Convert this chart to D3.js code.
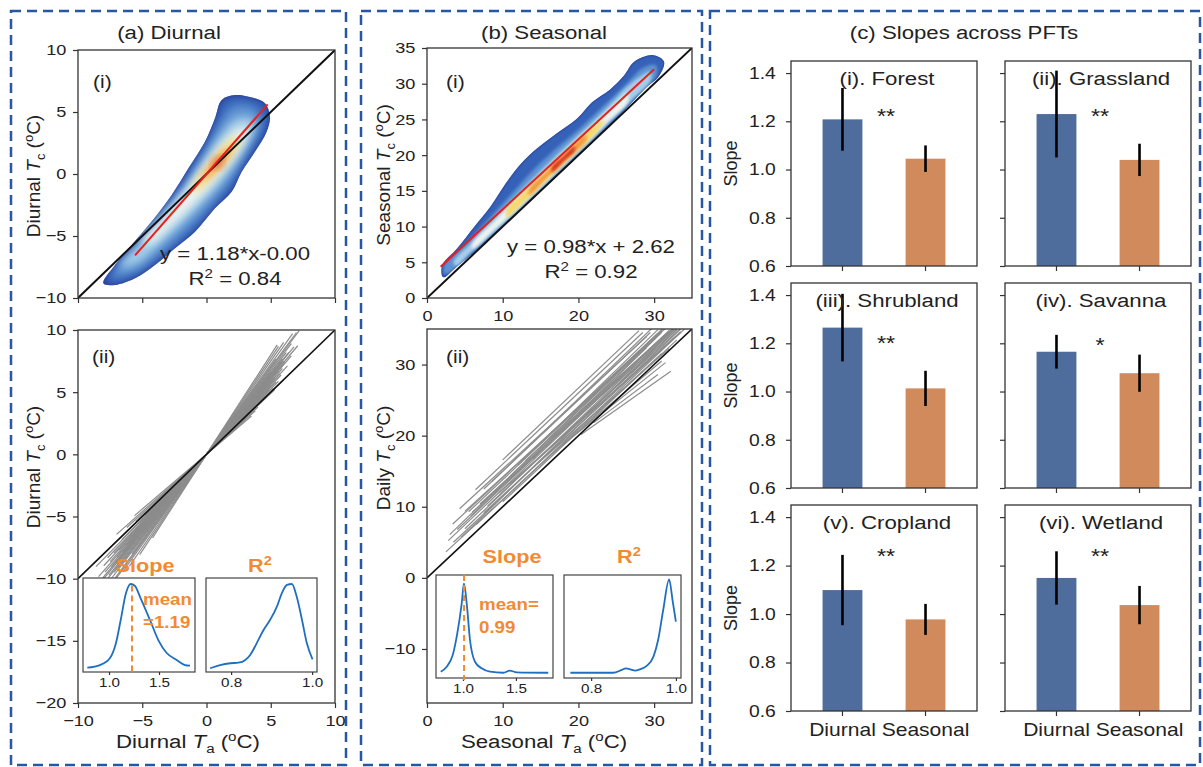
<!DOCTYPE html>
<html>
<head>
<meta charset="utf-8">
<script src="https://cdn.jsdelivr.net/npm/d3@7"></script>
<style>
  body { margin: 0; background: #fff; }
  svg { display: block; }
  text { font-family: "Liberation Sans", Arial, sans-serif; fill: #222; }
</style>
</head>
<body>
<div id="fig"></div>
<script>
//************* data ***************/

// (a)(i) diurnal scatter: density contours (low -> high), in data units
var cloudA = [
  [[-8.03,-8.82],[-7.12,-7.34],[-5.82,-5.73],[-4.27,-3.84],[-2.71,-1.69],[-1.41,0.46],[-0.12,2.61],[0.66,4.49],[1.18,5.97],[2.22,6.37],[3.77,6.10],[4.55,5.70],[4.94,4.62],[4.68,3.41],[3.77,1.80],[2.74,0.19],[1.96,-1.43],[0.66,-2.77],[-0.89,-4.65],[-2.45,-5.99],[-4.01,-7.34],[-5.56,-8.41],[-7.12,-8.95]],
  [[-7.4,-8.3],[-5.6,-6.0],[-3.9,-3.8],[-2.4,-1.9],[-1.0,0.3],[0.3,2.6],[1.2,4.4],[1.9,5.4],[3.0,5.6],[4.0,5.1],[4.3,4.3],[3.9,3.1],[3.0,1.5],[2.1,-0.2],[1.0,-1.7],[-0.4,-3.4],[-2.0,-5.0],[-3.8,-6.6],[-5.6,-7.9]],
  [[-6.8,-7.5],[-5.0,-5.4],[-3.3,-3.3],[-1.7,-1.3],[-0.3,0.9],[1.0,3.0],[2.2,4.4],[3.3,4.6],[3.8,4.0],[3.4,2.9],[2.4,1.1],[1.2,-0.6],[-0.2,-2.2],[-1.8,-3.9],[-3.6,-5.6],[-5.4,-7.2]],
  [[-5.0,-5.5],[-3.2,-3.4],[-1.6,-1.4],[-0.2,0.6],[1.2,2.4],[2.6,3.7],[3.3,3.6],[2.9,2.6],[1.8,0.9],[0.6,-0.6],[-0.9,-2.3],[-2.6,-4.0],[-4.4,-5.6]],
  [[-1.0,-1.0],[0.0,0.3],[1.1,1.8],[2.2,2.9],[2.6,2.7],[2.0,1.7],[1.0,0.5],[0.0,-0.6],[-0.8,-1.4]],
  [[-0.2,0.0],[0.7,1.1],[1.6,2.0],[1.9,1.8],[1.3,1.0],[0.4,0.0],[-0.3,-0.5]],
  [[0.4,0.5],[0.9,1.2],[1.3,1.4],[1.2,1.0],[0.7,0.5]]
]
var fitA = {k: 1.18, b: 0.00, x0: -5.56, x1: 4.76}
var eqA = ["y = 1.18*x-0.00", "0.84"]

// (b)(i) seasonal scatter: density contours
var cloudB = [
  [[2.03,3.0],[2.03,4.62],[4.0,6.95],[6.2,9.9],[8.4,12.8],[10.5,16.2],[12.5,18.9],[14.6,21.0],[17.2,23.1],[19.8,25.1],[21.8,27.4],[24.2,29.2],[26.0,31.1],[27.4,33.1],[29.9,34.0],[31.3,33.1],[30.6,31.0],[29,29.5],[26,26.2],[22,21.9],[18,17.9],[14,13.9],[10,10.0],[6,6.2],[3.5,4.0],[2.3,2.9]],
  [[2.3,3.4],[2.3,4.6],[5,7.4],[8,10.9],[11,14.4],[14,17.9],[17,20.9],[20,23.6],[23,26.6],[26,29.6],[28.5,32.2],[30.2,32.6],[30.3,31.2],[28,28.6],[24,24.4],[20,20.2],[16,16.1],[12,12.1],[8,8.3],[5,5.5],[3,3.6]],
  [[3.5,5.0],[6,7.9],[9,11.3],[12,14.6],[15,17.8],[18,20.9],[21,23.8],[24,26.9],[27,30.1],[29.5,31.7],[29.5,30.4],[27,27.7],[24,24.6],[21,21.4],[18,18.4],[15,15.3],[12,12.3],[9,9.4],[6,6.6],[3.8,4.5]],
  [[6,7.6],[9,10.8],[12,14.1],[15,17.2],[18,20.3],[21,23.3],[24,26.3],[26.5,28.6],[26.5,27.4],[24,24.8],[21,21.7],[18,18.7],[15,15.6],[12,12.6],[9,9.7],[6,6.9]],
  [[10.5,12.3],[13,15.0],[16,18.1],[19,21.1],[22,24.0],[23.5,24.9],[22,22.7],[19,19.7],[16,16.7],[13,13.6],[10.5,11.3]],
  [[13.5,15.2],[16,17.9],[18.5,20.4],[21,22.8],[21,22.0],[18.5,19.5],[16,17.0],[13.5,14.4]],
  [[16.5,18.3],[18,19.8],[19.5,21.2],[19.5,20.6],[18,19.1],[16.5,17.6]]
]
var fitB = {k: 0.98, b: 2.62, x0: 1.8, x1: 30.0}
var eqB = ["y = 0.98*x + 2.62", "0.92"]

// (a)(ii) site regressions: [slope, x start, x end], through origin
var linesA = [
  [1.40,-7.5,7.0],[1.35,-7.8,6.6],[1.32,-7.2,6.2],[1.30,-8.0,5.9],[1.28,-7.6,6.4],[1.26,-7.0,5.8],
  [1.25,-8.2,6.0],[1.24,-6.8,5.5],[1.22,-7.4,5.2],[1.21,-6.5,6.1],[1.20,-7.9,5.6],[1.19,-6.0,5.0],
  [1.18,-7.0,4.8],[1.17,-8.4,5.9],[1.16,-6.3,5.3],[1.15,-7.5,4.6],[1.14,-5.8,5.7],[1.13,-6.8,6.3],
  [1.12,-8.0,4.4],[1.11,-5.5,5.0],[1.10,-7.2,5.8],[1.09,-6.0,4.2],[1.08,-7.7,5.4],[1.06,-5.2,4.9],
  [1.05,-8.6,5.6],[1.04,-6.6,4.5],[1.02,-4.8,5.2],[1.00,-8.8,6.0],[0.98,-5.5,5.3],[0.95,-6.2,4.0],
  [0.92,-7.0,3.8],[0.88,-5.6,3.5],[1.45,-6.5,6.7],[1.50,-6.0,6.0],[1.55,-5.2,5.6],[1.38,-5.8,7.2],
  [1.33,-6.9,5.0],[1.27,-5.0,6.8],[1.23,-8.3,7.1],[1.20,-4.6,6.6],[1.60,-4.2,5.5],[1.42,-7.0,5.4]
]

// (b)(ii) site regressions: [slope, intercept, x start, x end]
var linesB = [
  [1.01,6.5,10.0,28.0],[1.00,6.0,6.4,28.5],[0.98,5.5,4.3,29.0],[1.02,4.8,8.5,30.0],[0.99,4.2,3.4,30.5],
  [1.00,3.8,5.5,31.0],[0.97,3.6,7.0,32.5],[1.03,3.0,3.0,31.5],[0.98,3.2,9.0,33.0],[1.00,2.8,4.0,32.0],
  [0.96,3.5,6.0,33.5],[1.01,2.4,2.8,32.0],[0.99,2.2,8.0,33.0],[1.02,1.8,5.0,33.0],[0.97,2.6,11.0,34.0],
  [1.00,1.5,3.5,33.5],[0.98,1.8,7.5,32.5],[1.04,1.0,4.5,32.5],[0.95,2.8,12.0,33.5],[1.00,1.0,6.5,34.0],
  [0.99,0.8,10.0,33.0],[0.93,2.5,14.0,32.0],[0.90,2.6,16.0,31.0],[0.85,3.5,18.0,31.5],[0.75,4.9,20.3,32.2],
  [0.80,4.2,22.0,30.5],[1.03,3.5,12.0,30.5],[1.05,2.0,14.0,31.0],[0.97,4.5,5.0,31.0],[1.00,5.0,7.5,29.5],
  [1.02,2.8,5.8,29.0],[0.98,1.2,2.5,31.0],[0.96,4.0,13.0,31.5],[1.01,3.3,16.0,32.0],[0.94,3.0,9.5,33.5],
  [1.00,2.0,18.0,33.0]
]

// inset density curves: [value, relative density]
var slopeDensA = [[0.783,0.046],[0.91,0.074],[1.01,0.149],[1.07,0.309],[1.117,0.553],[1.17,0.84],[1.217,0.936],[1.26,0.915],[1.31,0.80],[1.41,0.553],[1.493,0.34],[1.577,0.202],[1.677,0.128],[1.76,0.074],[1.81,0.067]]
var r2DensA = [[0.748,0.04],[0.773,0.074],[0.798,0.093],[0.818,0.099],[0.835,0.128],[0.847,0.181],[0.863,0.305],[0.88,0.447],[0.896,0.553],[0.913,0.695],[0.925,0.837],[0.938,0.926],[0.95,0.936],[0.962,0.80],[0.975,0.553],[0.987,0.305],[1.001,0.135]]
var slopeDensB = [[0.79,0.061],[0.846,0.11],[0.903,0.223],[0.946,0.434],[0.988,0.725],[1.009,0.919],[1.035,0.725],[1.066,0.369],[1.113,0.158],[1.176,0.094],[1.255,0.061],[1.38,0.051],[1.443,0.071],[1.507,0.055],[1.805,0.051]]
var r2DensB = [[0.751,0.051],[0.852,0.051],[0.872,0.078],[0.882,0.094],[0.892,0.084],[0.904,0.071],[0.915,0.084],[0.931,0.117],[0.947,0.207],[0.958,0.369],[0.97,0.66],[0.984,0.958],[0.992,0.757],[1.0,0.547]]
var slopeLimA = [0.74, 1.86], r2LimA = [0.738, 1.012]
var slopeLimB = [0.745, 1.85], r2LimB = [0.736, 1.012]
var slopeTicks = [1.0, 1.5], r2Ticks = [0.8, 1.0]
var meanLineA = 1.23, meanTextA = ["mean", "=1.19"]
var meanLineB = 1.01, meanTextB = ["mean=", "0.99"]

// (c) slopes across PFTs
var pfts = ["(i). Forest", "(ii). Grassland", "(iii). Shrubland", "(iv). Savanna", "(v). Cropland", "(vi). Wetland"]
var periods = ["Diurnal", "Seasonal"]
var diurnalSlope = [1.208, 1.230, 1.265, 1.165, 1.099, 1.149]
var diurnalErr   = [0.130, 0.180, 0.140, 0.070, 0.145, 0.110]
var seasonalSlope = [1.045, 1.040, 1.013, 1.076, 0.978, 1.037]
var seasonalErr   = [0.055, 0.067, 0.073, 0.077, 0.064, 0.079]
var signif = ["**", "**", "**", "*", "**", "**"]
var signifY = [1.24, 1.24, 1.22, 1.21, 1.26, 1.26]
var slopeLim = [0.6, 1.45]
var slopeAxisTicks = [0.6, 0.8, 1.0, 1.2, 1.4]

//************* setup ***************/
var SX = 1.17   // the figure's text is a bit wider than tall
// edge colour, then one colour per contour (the first one is a blurred copy of the edge)
var densityColors = ["#24318a", "#3562b8", "#5d93d2", "#a6cfe9", "#eef4ef", "#f6d86a", "#f29a42", "#d6321f"]
var blue = "#4f6d9c", orange = "#d08a5c", accent = "#f28a33", lineBlue = "#1f6fbf"

var svg = d3.select("#fig").append("svg").attr("width", 1203).attr("height", 767)
var defs = svg.append("defs")

// text with optional sub / superscripts, stretched horizontally
function label(g, x, y, parts, o) {
  o = o || {}
  var size = o.size || 15
  var sx = o.sx || (o.rot ? 1 : SX)
  var t = g.append("text")
    .attr("transform", "translate(" + x + "," + y + ")" + (o.rot ? " rotate(" + o.rot + ")" : "") + " scale(" + sx + ",1)")
    .attr("text-anchor", o.anchor || "middle")
    .style("font-size", size + "px")
    .style("font-weight", o.bold ? "bold" : null)
    .style("fill", o.fill || "#222")
  if (typeof parts === "string") parts = [{t: parts}]
  var shift = 0
  parts.forEach(function(p) {
    var target = p.sub ? 0.28 * size : p.sup ? -0.38 * size : 0
    var ts = t.append("tspan").attr("dy", target - shift).text(p.t)
    shift = target
    if (p.sub || p.sup) ts.style("font-size", (size * 0.68) + "px")
    if (p.it) ts.style("font-style", "italic")
  })
  return t
}

function tempLabel(prefix, sub) {
  return [{t: prefix + " "}, {t: "T", it: true}, {t: sub, sub: true}, {t: " ("}, {t: "o", sup: true}, {t: "C)"}]
}

function styleAxis(sel, size, show) {
  sel.select(".domain").remove()
  sel.selectAll(".tick line").attr("stroke", "#333").attr("stroke-width", 1.2)
  sel.selectAll(".tick text").style("font-size", size + "px").attr("transform", "scale(" + SX + ",1)")
  if (!show) sel.selectAll(".tick text").remove()
}

function frame(g, x, y, xt, yt, showX, showY) {
  var xa = g.append("g").attr("transform", "translate(0," + y.range()[0] + ")")
    .call(d3.axisBottom(x).tickValues(xt).tickSize(5).tickPadding(7))
  styleAxis(xa, 15.5, showX)
  var ya = g.append("g").attr("transform", "translate(" + x.range()[0] + ",0)")
    .call(d3.axisLeft(y).tickValues(yt).tickSize(5).tickPadding(5))
  styleAxis(ya, 15.5, showY)
  g.append("rect")
    .attr("x", x.range()[0]).attr("y", y.range()[1])
    .attr("width", x.range()[1] - x.range()[0]).attr("height", y.range()[0] - y.range()[1])
    .attr("fill", "none").attr("stroke", "#333").attr("stroke-width", 1.3)
}

function clipFor(id, x, y) {
  defs.append("clipPath").attr("id", id).append("rect")
    .attr("x", x.range()[0]).attr("y", y.range()[1])
    .attr("width", x.range()[1] - x.range()[0]).attr("height", y.range()[0] - y.range()[1])
  return "url(#" + id + ")"
}

function cloud(g, x, y, layers, edgeBlur, blur, id) {
  var shape = d3.line().x(d => x(d[0])).y(d => y(d[1])).curve(d3.curveCatmullRomClosed.alpha(0.5))
  defs.append("clipPath").attr("id", id + "clip").append("path").attr("d", shape(layers[0]))
  ;[["e", edgeBlur], ["b", blur]].forEach(function(f) {
    defs.append("filter").attr("id", id + f[0])
        .attr("x", "-30%").attr("y", "-30%").attr("width", "160%").attr("height", "160%")
      .append("feGaussianBlur").attr("stdDeviation", f[1])
  })
  g.append("path").attr("d", shape(layers[0])).attr("fill", densityColors[0])
  var inner = g.append("g").attr("clip-path", "url(#" + id + "clip)")
  layers.forEach(function(p, i) {
    inner.append("path").attr("d", shape(p)).attr("fill", densityColors[i + 1])
      .attr("filter", "url(#" + id + (i === 0 ? "e" : "b") + ")")
  })
}

function inset(g, box, lim, ticks, dens, meanX, meanTop) {
  var x = d3.scaleLinear().domain(lim).range([box[0], box[1]])
  var y = d3.scaleLinear().domain([0, 1]).range([box[3], box[2]])
  g.append("rect").attr("x", box[0]).attr("y", box[2])
    .attr("width", box[1] - box[0]).attr("height", box[3] - box[2])
    .attr("fill", "#fff").attr("stroke", "#444").attr("stroke-width", 1.2)
  var ax = g.append("g").attr("transform", "translate(0," + box[3] + ")")
    .call(d3.axisBottom(x).tickValues(ticks).tickSize(3).tickPadding(3).tickFormat(d3.format(".1f")))
  styleAxis(ax, 13, true)
  g.append("path").datum(dens)
    .attr("d", d3.line().x(d => x(d[0])).y(d => y(d[1])).curve(d3.curveMonotoneX))
    .attr("fill", "none").attr("stroke", lineBlue).attr("stroke-width", 1.8)
  if (meanX != null) {
    g.append("line").attr("x1", x(meanX)).attr("x2", x(meanX))
      .attr("y1", y(meanTop)).attr("y2", box[3] + 2)
      .attr("stroke", accent).attr("stroke-width", 2).attr("stroke-dasharray", "6,4")
  }
}

//************* dashed panel frames ***************/
[[11, 11, 335, 754], [361, 11, 341, 754], [710, 11, 490, 754]].forEach(function(b) {
  svg.append("rect").attr("x", b[0]).attr("y", b[1]).attr("width", b[2]).attr("height", b[3])
    .attr("fill", "none").attr("stroke", "#2557a5").attr("stroke-width", 2.5)
    .attr("stroke-dasharray", "10,6")
})

label(svg, 169, 39, "(a) Diurnal", {size: 19})
label(svg, 544, 39, "(b) Seasonal", {size: 19})
label(svg, 964, 39, "(c) Slopes across PFTs", {size: 19})

//************* (a)(i) ***************/
var gA1 = svg.append("g")
var xA1 = d3.scaleLinear().domain([-10, 10]).range([78, 335])
var yA1 = d3.scaleLinear().domain([-10, 10]).range([298, 50])
var plotA1 = gA1.append("g").attr("clip-path", clipFor("cA1", xA1, yA1))
cloud(plotA1, xA1, yA1, cloudA, 3.5, 4, "dA")
plotA1.append("line").attr("x1", xA1(-10)).attr("y1", yA1(-10)).attr("x2", xA1(10)).attr("y2", yA1(10))
  .attr("stroke", "#111").attr("stroke-width", 2)
plotA1.append("line")
  .attr("x1", xA1(fitA.x0)).attr("y1", yA1(fitA.k * fitA.x0 + fitA.b))
  .attr("x2", xA1(fitA.x1)).attr("y2", yA1(fitA.k * fitA.x1 + fitA.b))
  .attr("stroke", "#e8201a").attr("stroke-width", 2)
frame(gA1, xA1, yA1, [-10, -5, 0, 5, 10], [-10, -5, 0, 5, 10], false, true)
label(gA1, 93, 88, "(i)", {size: 18, anchor: "start"})
label(gA1, 235, 260, eqA[0], {size: 19})
label(gA1, 235, 285, [{t: "R"}, {t: "2", sup: true}, {t: " = " + eqA[1]}], {size: 19})
label(gA1, 40, 176, tempLabel("Diurnal", "c"), {size: 19, rot: -90})

//************* (a)(ii) ***************/
var gA2 = svg.append("g")
var xA2 = d3.scaleLinear().domain([-10, 10]).range([78, 335])
var yA2 = d3.scaleLinear().domain([-20, 10]).range([703, 330])
var plotA2 = gA2.append("g").attr("clip-path", clipFor("cA2", xA2, yA2))
plotA2.selectAll("line.site").data(linesA).enter().append("line")
  .attr("x1", d => xA2(d[1])).attr("y1", d => yA2(d[0] * d[1]))
  .attr("x2", d => xA2(d[2])).attr("y2", d => yA2(d[0] * d[2]))
  .attr("stroke", "#8c8c8c").attr("stroke-width", 1.2)
plotA2.append("line").attr("x1", xA2(-10)).attr("y1", yA2(-10)).attr("x2", xA2(10)).attr("y2", yA2(10))
  .attr("stroke", "#111").attr("stroke-width", 1.6)
frame(gA2, xA2, yA2, [-10, -5, 0, 5, 10], [-20, -15, -10, -5, 0, 5, 10], true, true)
inset(gA2, [83, 195, 578, 672], slopeLimA, slopeTicks, slopeDensA, meanLineA, 0.92)
inset(gA2, [206, 317, 578, 672], r2LimA, r2Ticks, r2DensA, null)
label(gA2, 145, 572, "Slope", {size: 19, bold: true, fill: accent, sx: 1.14})
label(gA2, 260, 572, [{t: "R"}, {t: "2", sup: true}], {size: 19, bold: true, fill: accent, sx: 1.14})
label(gA2, 143, 605, meanTextA[0], {size: 16, bold: true, fill: accent, anchor: "start"})
label(gA2, 143, 628, meanTextA[1], {size: 16, bold: true, fill: accent, anchor: "start"})
label(gA2, 92, 363, "(ii)", {size: 18, anchor: "start"})
label(gA2, 40, 467, tempLabel("Diurnal", "c"), {size: 19, rot: -90})
label(gA2, 188, 748, tempLabel("Diurnal", "a"), {size: 19})

//************* (b)(i) ***************/
var gB1 = svg.append("g")
var xB1 = d3.scaleLinear().domain([0, 35]).range([427, 692])
var yB1 = d3.scaleLinear().domain([0, 35]).range([298, 48])
var plotB1 = gB1.append("g").attr("clip-path", clipFor("cB1", xB1, yB1))
cloud(plotB1, xB1, yB1, cloudB, 1.8, 1.6, "dB")
plotB1.append("line").attr("x1", xB1(0)).attr("y1", yB1(0)).attr("x2", xB1(35)).attr("y2", yB1(35))
  .attr("stroke", "#111").attr("stroke-width", 2)
plotB1.append("line")
  .attr("x1", xB1(fitB.x0)).attr("y1", yB1(fitB.k * fitB.x0 + fitB.b))
  .attr("x2", xB1(fitB.x1)).attr("y2", yB1(fitB.k * fitB.x1 + fitB.b))
  .attr("stroke", "#e8201a").attr("stroke-width", 2)
frame(gB1, xB1, yB1, [0, 10, 20, 30], [0, 5, 10, 15, 20, 25, 30, 35], true, true)
label(gB1, 446, 88, "(i)", {size: 18, anchor: "start"})
label(gB1, 591, 253, eqB[0], {size: 19})
label(gB1, 591, 278, [{t: "R"}, {t: "2", sup: true}, {t: " = " + eqB[1]}], {size: 19})
label(gB1, 390, 175, tempLabel("Seasonal", "c"), {size: 19, rot: -90})

//************* (b)(ii) ***************/
var gB2 = svg.append("g")
var xB2 = d3.scaleLinear().domain([0, 35]).range([427, 692])
var yB2 = d3.scaleLinear().domain([-17.6, 35]).range([703, 329])
var plotB2 = gB2.append("g").attr("clip-path", clipFor("cB2", xB2, yB2))
plotB2.selectAll("line.site").data(linesB).enter().append("line")
  .attr("x1", d => xB2(d[2])).attr("y1", d => yB2(d[0] * d[2] + d[1]))
  .attr("x2", d => xB2(d[3])).attr("y2", d => yB2(d[0] * d[3] + d[1]))
  .attr("stroke", "#8c8c8c").attr("stroke-width", 1.2)
plotB2.append("line").attr("x1", xB2(0)).attr("y1", yB2(0)).attr("x2", xB2(35)).attr("y2", yB2(35))
  .attr("stroke", "#111").attr("stroke-width", 1.6)
frame(gB2, xB2, yB2, [0, 10, 20, 30], [-10, 0, 10, 20, 30], true, true)
inset(gB2, [436, 553, 575, 678], slopeLimB, slopeTicks, slopeDensB, meanLineB, 1.0)
inset(gB2, [564, 681, 575, 678], r2LimB, r2Ticks, r2DensB, null)
label(gB2, 512, 563, "Slope", {size: 19, bold: true, fill: accent, sx: 1.14})
label(gB2, 629, 563, [{t: "R"}, {t: "2", sup: true}], {size: 19, bold: true, fill: accent, sx: 1.14})
label(gB2, 479, 610, meanTextB[0], {size: 16, bold: true, fill: accent, anchor: "start"})
label(gB2, 479, 633, meanTextB[1], {size: 16, bold: true, fill: accent, anchor: "start"})
label(gB2, 446, 363, "(ii)", {size: 18, anchor: "start"})
label(gB2, 390, 458, tempLabel("Daily", "c"), {size: 19, rot: -90})
label(gB2, 544, 748, tempLabel("Seasonal", "a"), {size: 19})

//************* (c) bars ***************/
var colLeft = [791, 1005], colW = 186
var rowSpan = [[266, 61], [488, 283], [711, 505]]

pfts.forEach(function(name, i) {
  var r = Math.floor(i / 2), c = i % 2
  var g = svg.append("g")
  var x = d3.scaleBand().domain(periods).range([colLeft[c], colLeft[c] + colW])
    .paddingInner(0.52).paddingOuter(0.38)
  var y = d3.scaleLinear().domain(slopeLim).range(rowSpan[r])
  var rows = [
    {p: periods[0], v: diurnalSlope[i], e: diurnalErr[i], col: blue},
    {p: periods[1], v: seasonalSlope[i], e: seasonalErr[i], col: orange}
  ]
  g.selectAll("rect.bar").data(rows).enter().append("rect")
    .attr("x", d => x(d.p)).attr("width", x.bandwidth())
    .attr("y", d => y(d.v)).attr("height", d => y(slopeLim[0]) - y(d.v))
    .attr("fill", d => d.col)
  g.selectAll("line.err").data(rows).enter().append("line")
    .attr("x1", d => x(d.p) + x.bandwidth() / 2).attr("x2", d => x(d.p) + x.bandwidth() / 2)
    .attr("y1", d => y(d.v - d.e)).attr("y2", d => y(d.v + d.e))
    .attr("stroke", "#000").attr("stroke-width", 2.6)

  var xa = g.append("g").attr("transform", "translate(0," + y.range()[0] + ")")
    .call(d3.axisBottom(x).tickSize(5).tickPadding(7))
  styleAxis(xa, 18, r === 2)
  var ya = g.append("g").attr("transform", "translate(" + colLeft[c] + ",0)")
    .call(d3.axisLeft(y).tickValues(slopeAxisTicks).tickSize(5).tickPadding(8).tickFormat(d3.format(".1f")))
  styleAxis(ya, 16.5, c === 0)
  g.append("rect").attr("x", colLeft[c]).attr("y", y.range()[1])
    .attr("width", colW).attr("height", y.range()[0] - y.range()[1])
    .attr("fill", "none").attr("stroke", "#333").attr("stroke-width", 1.3)

  label(g, colLeft[c] + 96, y.range()[1] + 24, name, {size: 19})
  var midX = (x(periods[0]) + x(periods[1])) / 2 + x.bandwidth() / 2 + 2
  label(g, midX, y(signifY[i]) + 11.5, signif[i], {size: 20})
  if (c === 0) label(g, 737, (y.range()[0] + y.range()[1]) / 2, "Slope", {size: 18, rot: -90})
})
</script>
</body>
</html>
